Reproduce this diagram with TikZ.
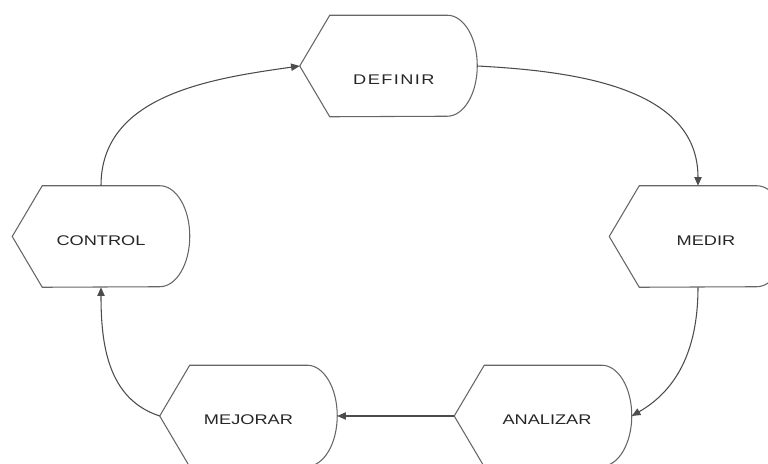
\documentclass[tikz,border=0pt]{standalone}
\usepackage{fontspec}
\newfontfamily\boxfont[FakeStretch=1.3]{Liberation Sans}
\usetikzlibrary{positioning,arrows.meta}

\begin{document}
\begin{tikzpicture}[
  x=0.75pt, y=0.75pt,
  font=\boxfont\fontsize{10.5}{12}\selectfont,
  stage/.style={
    rectangle, inner sep=0pt,
    minimum width=132.75pt, minimum height=75.75pt,
    text height=13.5pt, text depth=0pt, text=black!85
  },
  outline/.style={draw=black!60, line width=0.8pt},
  arr/.style={-{Triangle[length=6.5pt,width=5.5pt]}, line width=0.8pt, draw=black!70}
]
\useasboundingbox (0,0) rectangle (768,464);
\clip (0,0) rectangle (768,464);

\node[stage, text height=28.5pt] (definir) at (388.5,398)
  {\hspace{8pt}\addfontfeature{LetterSpace=10}DEFINIR};
\node[stage] (medir)    at (698,227.5) {\hspace{12pt}MEDIR};
\node[stage] (analizar) at (543,48) {\hspace{6pt}ANALIZAR};
\node[stage, left=87.75pt of analizar] (mejorar) {MEJORAR};
\node[stage] (control)  at (101,227.5) {CONTROL};

% display-type outlines
\foreach \n in {definir,medir,analizar,mejorar,control}
  \draw[outline] (\n.west) -- ([xshift=22.5pt]\n.north west)
    -- ([xshift=-22.5pt]\n.north east)
    arc[start angle=90, end angle=-90, x radius=22.5pt, y radius=37.875pt]
    -- ([xshift=22.5pt]\n.south west) -- cycle;

\draw[arr] (control.north) to[out=90, in=188] (definir.west);
\draw[arr] (definir.east) to[out=-3, in=90] (medir.north);
\draw[arr] (medir.south) to[out=-90, in=30] (analizar.east);
\draw[arr] (analizar.west) -- (mejorar.east);
\draw[arr] (mejorar.west) to[out=162, in=-90] (control.south);

\end{tikzpicture}
\end{document}
